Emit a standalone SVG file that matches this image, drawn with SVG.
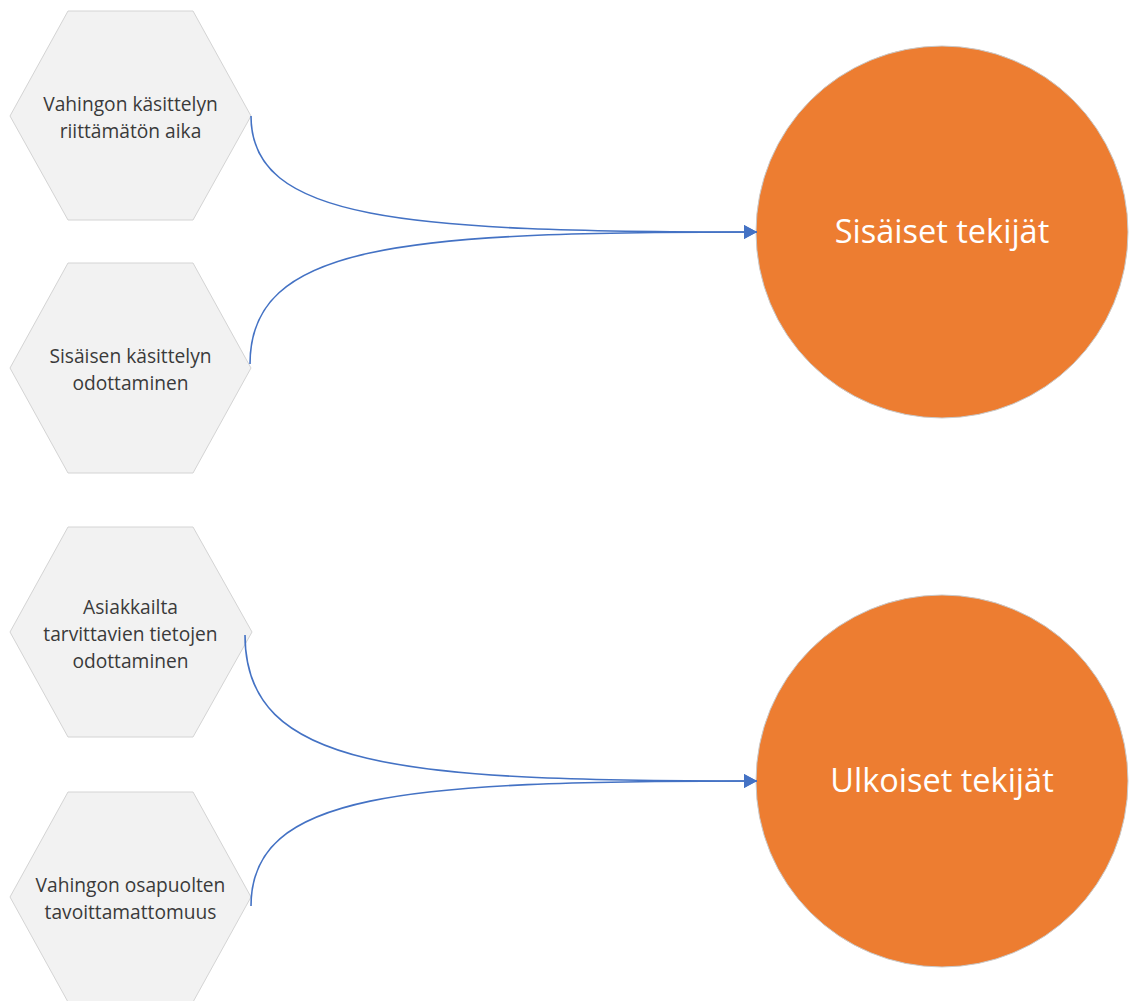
<svg xmlns="http://www.w3.org/2000/svg" width="1129" height="1001" viewBox="0 0 1129 1001">
<style>
.hex{fill:#f2f2f2;stroke:#d4d4d4;stroke-width:1}
.ht{font-family:"Open Sans","Noto Sans",sans-serif;font-size:19.2px;fill:#3a3a3a;text-anchor:middle}
.circ{fill:#ed7d31;stroke:#c9c9c9;stroke-width:1}
.ct{font-family:"Open Sans","Noto Sans",sans-serif;font-size:32.5px;fill:#ffffff;text-anchor:middle}
.con{fill:none;stroke:#4472c4;stroke-width:1.6}
</style>
<defs>
<marker id="arr" markerWidth="14" markerHeight="14" refX="13" refY="7" orient="auto" markerUnits="userSpaceOnUse">
<path d="M0,0 L13,7 L0,14 Z" fill="#4472c4"/>
</marker>
</defs>
<rect width="1129" height="1001" fill="#ffffff"/>
<g id="hex1">
<polygon class="hex" points="10,116 68,11 193,11 251,116 193,220 68,220"/>
<text class="ht" x="130.5" y="111">Vahingon käsittelyn</text>
<text class="ht" x="130.5" y="138">riittämätön aika</text>
</g>
<g id="hex2">
<polygon class="hex" points="10,368 68,263 193,263 251,368 193,473 68,473"/>
<text class="ht" x="130.5" y="363">Sisäisen käsittelyn</text>
<text class="ht" x="130.5" y="390">odottaminen</text>
</g>
<g id="hex3">
<polygon class="hex" points="10,632 68,527 193,527 252,632 193,737 68,737"/>
<text class="ht" x="130.5" y="614">Asiakkailta</text>
<text class="ht" x="130.5" y="641">tarvittavien tietojen</text>
<text class="ht" x="130.5" y="668">odottaminen</text>
</g>
<g id="hex4">
<polygon class="hex" points="10,897 68,792 193,792 251,897 193,1002 68,1002"/>
<text class="ht" x="130.5" y="892">Vahingon osapuolten</text>
<text class="ht" x="130.5" y="919">tavoittamattomuus</text>
</g>
<g id="circ1">
<circle class="circ" cx="942" cy="232" r="186"/>
<text class="ct" x="942" y="243">Sisäiset tekijät</text>
</g>
<g id="circ2">
<circle class="circ" cx="942" cy="781" r="186"/>
<text class="ct" x="942" y="792">Ulkoiset tekijät</text>
</g>
<g id="connectors">
<path class="con" d="M251,116 C251,220 400,232 757,232" marker-end="url(#arr)"/>
<path class="con" d="M250,364 C250,244 400,232 757,232" marker-end="url(#arr)"/>
<path class="con" d="M245,635 C245,769 400,781 757,781" marker-end="url(#arr)"/>
<path class="con" d="M251,906 C251,793 400,781 757,781" marker-end="url(#arr)"/>
</g>
</svg>
